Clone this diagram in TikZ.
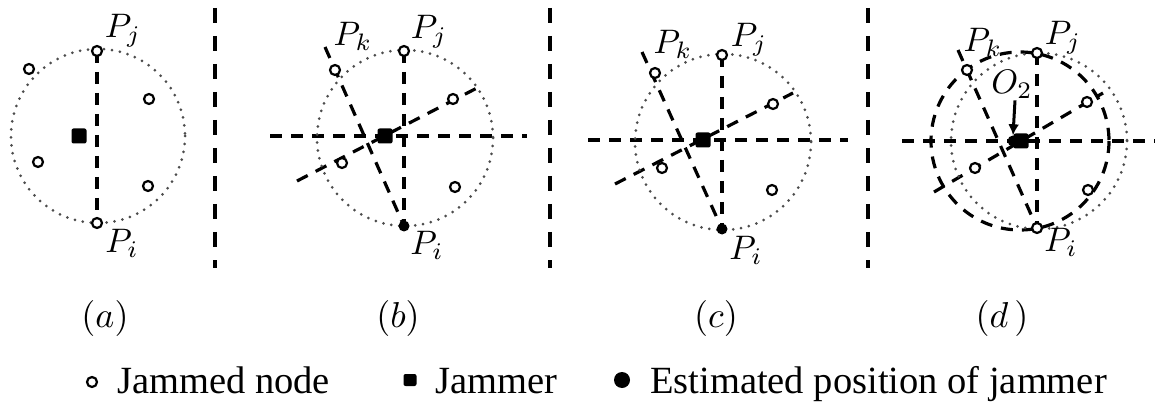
\documentclass[tikz,border=0pt]{standalone}
\usepackage{fontspec}
\usepackage{graphicx}
\newfontfamily\legfont{Liberation Serif}
\usetikzlibrary{arrows.meta,backgrounds}
\newcommand{\plabtxt}[1]{\scalebox{3.4}{$#1$}}
\newcommand{\captxtcmd}[1]{\scalebox{3.6}{$#1$}}
\tikzset{
  divider/.style={line width=3.5pt, dash pattern=on 15pt off 13pt},
  dline/.style={line width=3.2pt, dash pattern=on 12pt off 9pt},
  dotc/.style={black!70, line width=3pt, line cap=round, dash pattern=on 0pt off 8pt},
  jn/.style={circle, draw, line width=2.2pt, fill=white, minimum size=10pt, inner sep=0pt},
  jam/.style={rectangle, fill=black, rounded corners=2pt, minimum width=15pt, minimum height=15pt, inner sep=0pt},
  est/.style={circle, fill=black, minimum size=11pt, inner sep=0pt},
  plab/.style={inner sep=0pt},
  captxt/.style={inner sep=0pt},
  legtxt/.style={font=\legfont\fontsize{38.5}{40}\selectfont, inner sep=0pt, anchor=base west},
  arr/.style={line width=3pt, -{Latex[length=11pt,width=11pt]}}
}
\begin{document}
\begin{tikzpicture}[x=1pt,y=-1pt]
\useasboundingbox (0,0) rectangle (1155,403);

% dividers
\coordinate (v1t) at (215,8);  \coordinate (v1b) at (215,268);
\coordinate (v2t) at (550,8);  \coordinate (v2b) at (550,268);
\coordinate (v3t) at (868,8);  \coordinate (v3b) at (868,268);
\draw[divider] (v1t) -- (v1b);
\draw[divider] (v2t) -- (v2b);
\draw[divider] (v3t) -- (v3b);

% ---------- panel (a)
\draw[dotc] (98,136) circle[radius=87];
\node[jam] (aJ) at (79,136) {};
\node[jn] (aPj) at (97,51) {};
\node[jn] (aPi) at (97,223) {};
\node[jn] (a1) at (29,69) {};
\node[jn] (a2) at (149,99) {};
\node[jn] (a3) at (38,162) {};
\node[jn] (a4) at (148,186) {};
\node[plab] (aLj) at (123,31) {\plabtxt{P_j}};
\node[plab] (aLi) at (122,243) {\plabtxt{P_i}};
\begin{pgfonlayer}{background}
\draw[dline] (aPj.center) -- (aPi.center);
\end{pgfonlayer}
\node[captxt] (capa) at (105,318) {\captxtcmd{(a)}};

% ---------- panel (b)
\draw[dotc] (405,138) circle[radius=88];
\node[jam] (bJ) at (385,136) {};
\node[jn] (bPj) at (404,51) {};
\node[est] (bPi) at (404,226) {};
\node[jn] (bPk) at (335,70) {};
\node[jn] (b1) at (342,163) {};
\node[jn] (b2) at (453,99) {};
\node[jn] (b3) at (455,187) {};
\coordinate (bK0) at (325,47);
\coordinate (bH0) at (270,136); \coordinate (bH1) at (527,136);
\coordinate (bS0) at (297,181); \coordinate (bS1) at (477,88);
\node[plab] (bLk) at (353,36) {\plabtxt{P_k}};
\node[plab] (bLj) at (429,32) {\plabtxt{P_j}};
\node[plab] (bLi) at (427,245) {\plabtxt{P_i}};
\begin{pgfonlayer}{background}
\draw[dline] (bPj.center) -- (bPi.center);
\draw[dline] (bK0) -- (bPi.center);
\draw[dline] (bH0) -- (bH1);
\draw[dline] (bS0) -- (bS1);
\end{pgfonlayer}
\node[captxt] (capb) at (398,318) {\captxtcmd{(b)}};

% ---------- panel (c)
\draw[dotc] (723,142) circle[radius=88];
\node[jam] (cJ) at (703,140) {};
\node[jn] (cPj) at (722,55) {};
\node[est] (cPi) at (722,229) {};
\node[jn] (cPk) at (655,73) {};
\node[jn] (c1) at (662,168) {};
\node[jn] (c2) at (773,104) {};
\node[jn] (c3) at (772,190) {};
\coordinate (cK0) at (642,52);
\coordinate (cH0) at (588,140); \coordinate (cH1) at (848,140);
\coordinate (cS0) at (615,184); \coordinate (cS1) at (793,93);
\node[plab] (cLk) at (673,44) {\plabtxt{P_k}};
\node[plab] (cLj) at (749,40) {\plabtxt{P_j}};
\node[plab] (cLi) at (746,250) {\plabtxt{P_i}};
\begin{pgfonlayer}{background}
\draw[dline] (cPj.center) -- (cPi.center);
\draw[dline] (cK0) -- (cPi.center);
\draw[dline] (cH0) -- (cH1);
\draw[dline] (cS0) -- (cS1);
\end{pgfonlayer}
\node[captxt] (capc) at (716,318) {\captxtcmd{(c)}};

% ---------- panel (d)
\draw[dotc] (1039,141) circle[radius=88];
\node[jam] (dJ) at (1021,141) {};
\node[est] (dE) at (1013,141) {};
\node[jn] (dPj) at (1037,53) {};
\node[jn] (dPi) at (1037,228) {};
\node[jn] (dPk) at (967,70) {};
\node[jn] (d1) at (975,168) {};
\node[jn] (d2) at (1087,102) {};
\node[jn] (d3) at (1088,190) {};
\coordinate (dK0) at (958,50);
\coordinate (dH0) at (902,141); \coordinate (dH1) at (1155,141);
\coordinate (dS0) at (934,192); \coordinate (dS1) at (1103,93);
\node[plab] (dLk) at (983,42) {\plabtxt{P_k}};
\node[plab] (dLj) at (1063,38) {\plabtxt{P_j}};
\node[plab] (dLi) at (1061,242) {\plabtxt{P_i}};
\node[plab] (dO) at (1012,84) {\plabtxt{O_2}};
\begin{pgfonlayer}{background}
\draw[dline] (1020,141) circle[radius=89];
\draw[dline] (dPj.center) -- (dPi.center);
\draw[dline] (dK0) -- (dPi.center);
\draw[dline] (dH0) -- (dH1);
\draw[dline] (dS0) -- (dS1);
\end{pgfonlayer}
\draw[arr] ([xshift=3pt,yshift=-2pt]dO.south) -- (dE.north);
\node[captxt] (capd) at (1002,318) {\captxtcmd{(d\,)}};

% ---------- legend
\node[jn, minimum size=10pt] (lg1) at (92,382) {};
\node[legtxt] (lt1) at (117,393) {Jammed node};
\node[jam, minimum width=13pt, minimum height=12pt] (lg2) at (410,380) {};
\node[legtxt] (lt2) at (435,393) {Jammer};
\node[est, minimum size=16pt] (lg3) at (622,380) {};
\node[legtxt] (lt3) at (650,393) {Estimated position of jammer};
\end{tikzpicture}
\end{document}
